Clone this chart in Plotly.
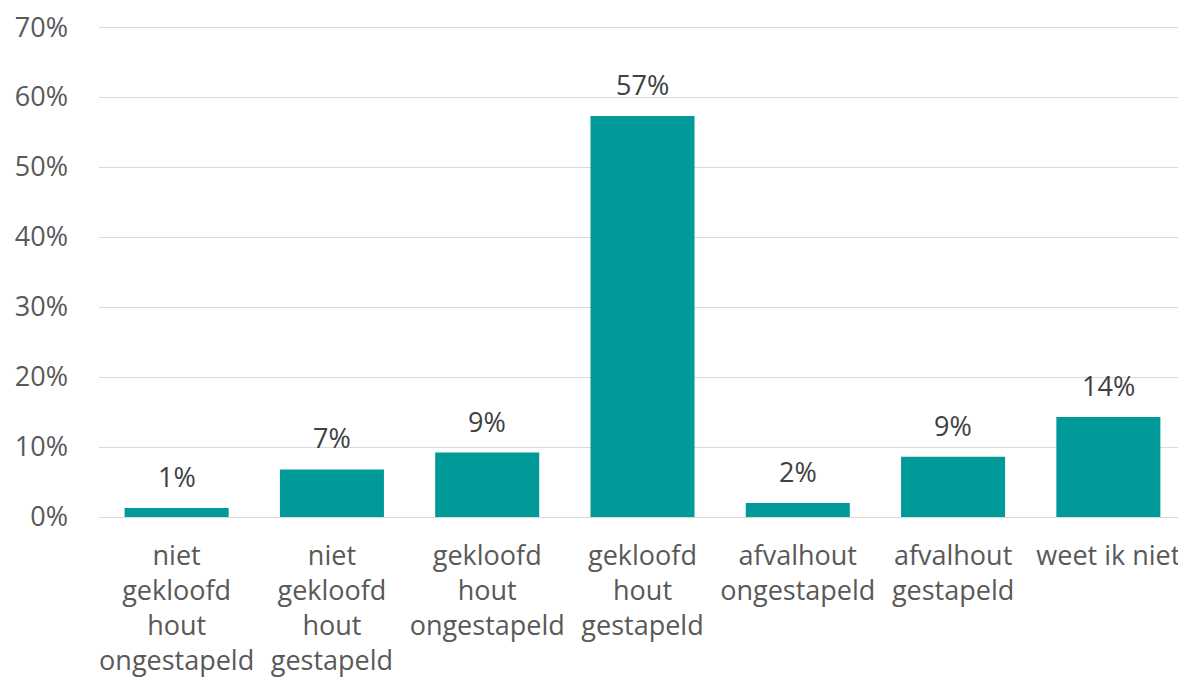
import plotly.graph_objects as go

categories = [
    "niet<br>gekloofd<br>hout<br>ongestapeld",
    "niet<br>gekloofd<br>hout<br>gestapeld",
    "gekloofd<br>hout<br>ongestapeld",
    "gekloofd<br>hout<br>gestapeld",
    "afvalhout<br>ongestapeld",
    "afvalhout<br>gestapeld",
    "weet ik niet",
]
shares = [0.013, 0.068, 0.092, 0.573, 0.020, 0.086, 0.143]

y_ticks = [0, 0.1, 0.2, 0.3, 0.4, 0.5, 0.6, 0.7]

fig = go.Figure()
fig.add_trace(
    go.Bar(
        x=categories,
        y=shares,
        marker=dict(color="#009A98", line=dict(width=0)),
        width=0.67,
        hoverinfo="skip",
    )
)

# waardelabels boven de staven
for cat, val in zip(categories, shares):
    fig.add_annotation(
        x=cat, y=val, text=f"{val:.0%}",
        showarrow=False, yanchor="bottom", yshift=11,
        font=dict(family="Open Sans", size=27, color="#404040"),
    )

# pagina heeft 8px body-marge, dus figuur iets kleiner
fig.update_layout(
    width=1178,
    height=672,
    margin=dict(l=91, r=0, t=18, b=163),
    paper_bgcolor="white",
    plot_bgcolor="white",
    showlegend=False,
    font=dict(family="Open Sans", size=27, color="#595959"),
    xaxis=dict(
        range=[-0.5, 6.5],
        automargin=False,
        showgrid=False,
        showline=False,
        ticks="",
        ticklabelstandoff=20,
        ticklabeloverflow="allow",
        tickfont=dict(size=27, color="#595959"),
    ),
    yaxis=dict(
        range=[0, 0.7015],
        automargin=False,
        tickvals=y_ticks,
        tickformat=".0%",
        showgrid=True,
        gridcolor="#D9D9D9",
        gridwidth=1,
        zeroline=True,
        zerolinecolor="#D9D9D9",
        zerolinewidth=1,
        showline=False,
        ticks="",
        ticklabelstandoff=30,
        ticklabeloverflow="allow",
        tickfont=dict(size=27, color="#595959"),
    ),
)

fig.write_html("out.html")
